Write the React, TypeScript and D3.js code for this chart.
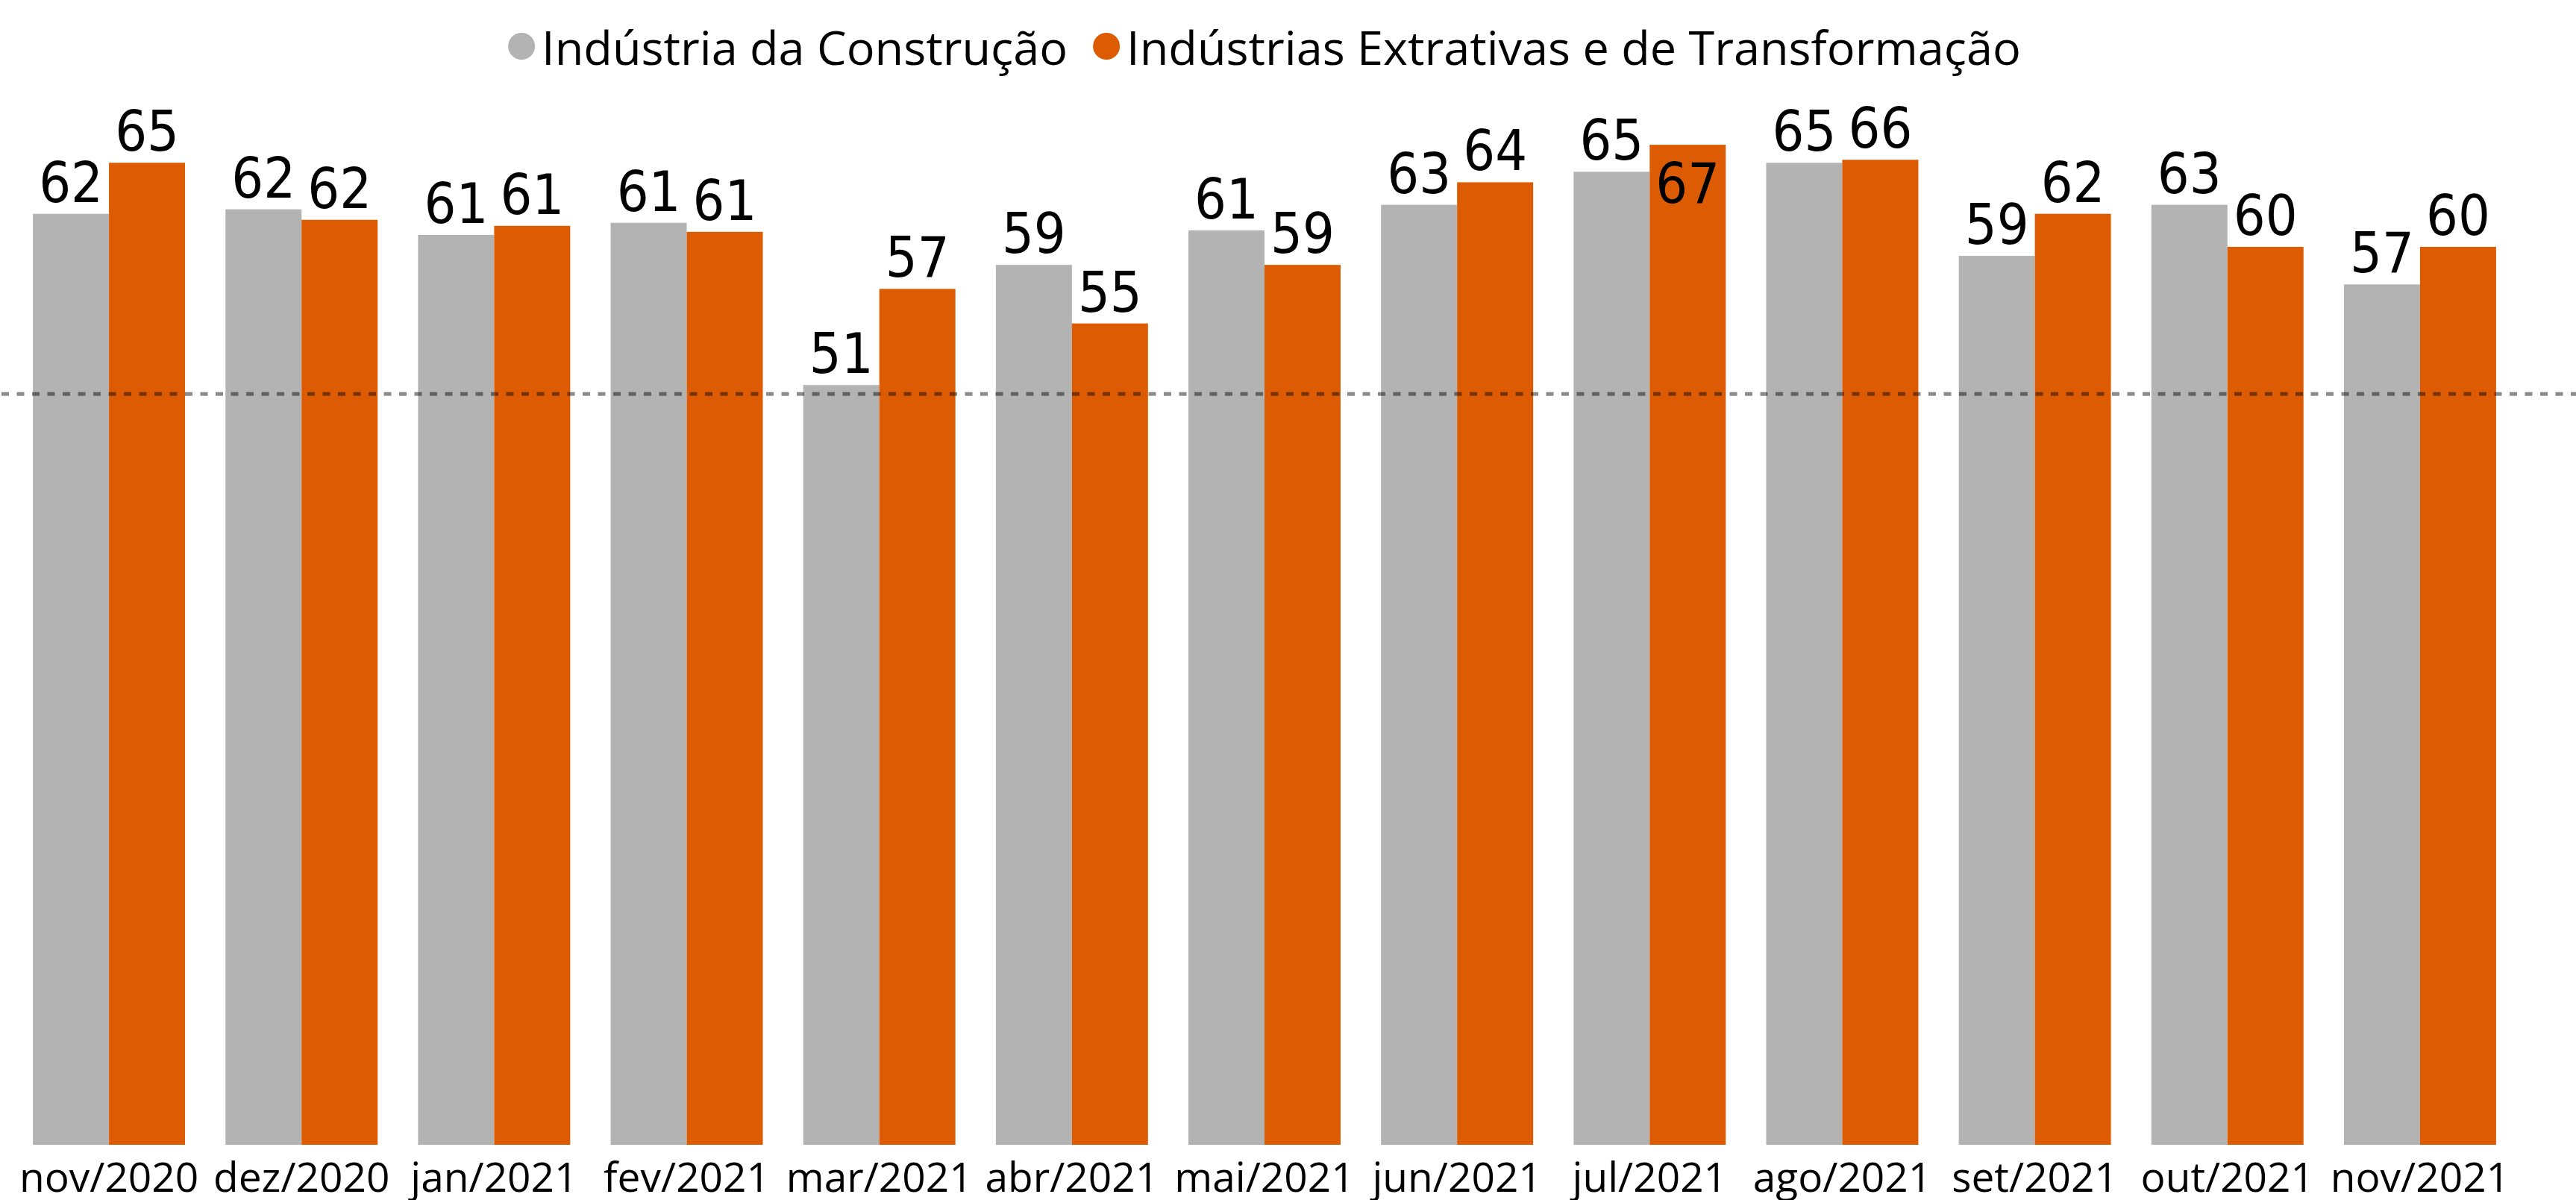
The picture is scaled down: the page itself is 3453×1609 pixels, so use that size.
import React from "react";
import * as d3 from "d3";

const months = ["nov/2020", "dez/2020", "jan/2021", "fev/2021", "mar/2021", "abr/2021", "mai/2021", "jun/2021", "jul/2021", "ago/2021", "set/2021", "out/2021", "nov/2021"];
const construcao = [62.0, 62.3, 60.6, 61.4, 50.6, 58.6, 60.9, 62.6, 64.8, 65.4, 59.2, 62.6, 57.3];
const extrativas = [65.4, 61.6, 61.2, 60.8, 57.0, 54.7, 58.6, 64.1, 66.6, 65.6, 62.0, 59.8, 59.8];
const seriesNames = ["Indústria da Construção", "Indústrias Extrativas e de Transformação"];
const seriesColors = ["#B3B3B3", "#DD5C03"];
const referenceValue = 50;
// data labels that sit inside their bar (month|series index)
const insideLabels = ["jul/2021|1"];

const W = 3453;
const H = 1609;
const LEGEND_SIZE = 63;
const LEGEND_FONT = `${LEGEND_SIZE}px 'Open Sans'`;
const AXIS_FONT = "'Open Sans'";
const LABEL_FONT = "'DejaVu Sans Condensed', 'DejaVu Sans', sans-serif";

function measure(text: string, font: string): number {
  const c = document.createElement("canvas");
  const ctx = c.getContext("2d");
  if (!ctx) return text.length * 30;
  ctx.font = font;
  return ctx.measureText(text).width;
}

export default function App() {
  const series = [construcao, extrativas];
  const x = d3.scaleBand<string>().domain(months).range([17, 3373]).paddingInner(0.21).paddingOuter(0.105);
  const xs = d3.scaleBand<string>().domain(["0", "1"]).range([0, x.bandwidth()]);
  const y = d3.scaleLinear().domain([0, 50]).range([1535, 528.3]);
  const fmt = d3.format(".0f");

  // legend layout
  const r = 18;
  const markerGap = 9;
  const itemGap = 34;
  const widths = seriesNames.map((n) => measure(n, LEGEND_FONT));
  const itemWidths = widths.map((w) => 2 * r + markerGap + w);
  const total = d3.sum(itemWidths) + itemGap * (seriesNames.length - 1);
  const legendCenter = (x.range()[0] + x.range()[1]) / 2;
  let cursor = legendCenter - total / 2;
  const legendItems = seriesNames.map((n, i) => {
    const start = cursor;
    cursor += itemWidths[i] + itemGap;
    return { name: n, color: seriesColors[i], cx: start + r, tx: start + 2 * r + markerGap };
  });

  return (
    <svg
      width={W}
      height={H}
      viewBox={`0 0 ${W} ${H}`}
      style={{ position: "absolute", left: 0, top: 0, display: "block", background: "#fff" }}
    >
      <rect x={0} y={0} width={W} height={H} fill="#fff" />
      {/* legend */}
      <g>
        {legendItems.map((it) => (
          <g key={it.name}>
            <circle cx={it.cx} cy={62} r={r} fill={it.color} />
            <text x={it.tx} y={87} fontFamily={AXIS_FONT} fontSize={LEGEND_SIZE} fill="#000">
              {it.name}
            </text>
          </g>
        ))}
      </g>
      {/* bars */}
      {months.map((m, mi) => (
        <g key={m} transform={`translate(${x(m)},0)`}>
          {series.map((s, si) => (
            <rect
              key={si}
              x={xs(String(si))}
              y={y(s[mi])}
              width={xs.bandwidth()}
              height={y(0) - y(s[mi])}
              fill={seriesColors[si]}
            />
          ))}
        </g>
      ))}
      {/* reference line */}
      <line
        x1={2}
        x2={W}
        y1={y(referenceValue)}
        y2={y(referenceValue)}
        stroke="#000"
        strokeOpacity={0.45}
        strokeWidth={5}
        strokeDasharray="10 10.5"
      />
      {/* data labels */}
      {months.map((m, mi) => (
        <g key={m + "-lbl"} transform={`translate(${x(m)},0)`}>
          {series.map((s, si) => {
            const inside = insideLabels.includes(`${m}|${si}`);
            return (
              <text
                key={si}
                x={(xs(String(si)) as number) + xs.bandwidth() / 2}
                y={inside ? y(s[mi]) + 78 : y(s[mi]) - 16}
                textAnchor="middle"
                fontFamily={LABEL_FONT}
                fontSize={75}
                fill="#000"
              >
                {fmt(s[mi])}
              </text>
            );
          })}
        </g>
      ))}
      {/* x axis labels */}
      {months.map((m) => (
        <text
          key={m + "-x"}
          x={(x(m) as number) + x.bandwidth() / 2}
          y={1598}
          textAnchor="middle"
          fontFamily={AXIS_FONT}
          fontSize={55}
          fill="#000"
        >
          {m}
        </text>
      ))}
    </svg>
  );
}
